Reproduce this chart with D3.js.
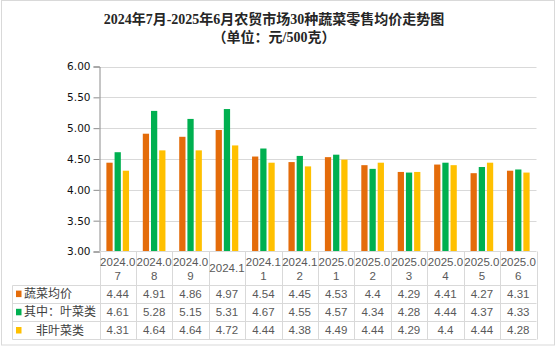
<!DOCTYPE html>
<html>
<head>
<meta charset="utf-8">
<script src="https://cdn.jsdelivr.net/npm/d3@7"></script>
<style>
  html, body { margin: 0; padding: 0; background: #fff; }
  svg { display: block; }
</style>
</head>
<body>
<svg id="chart" width="556" height="346"></svg>
<script>
// Monthly retail price data, 30 vegetables at farmers' markets
const categories = ["2024.07", "2024.08", "2024.09", "2024.1", "2024.11", "2024.12",
                    "2025.01", "2025.02", "2025.03", "2025.04", "2025.05", "2025.06"];
const seriesNames = ["蔬菜均价", "其中：叶菜类", "非叶菜类"];
const avgAll   = [4.44, 4.91, 4.86, 4.97, 4.54, 4.45, 4.53, 4.4, 4.29, 4.41, 4.27, 4.31];
const leafy    = [4.61, 5.28, 5.15, 5.31, 4.67, 4.55, 4.57, 4.34, 4.28, 4.44, 4.37, 4.33];
const nonLeafy = [4.31, 4.64, 4.64, 4.72, 4.44, 4.38, 4.49, 4.44, 4.29, 4.4, 4.44, 4.28];
const yTicks = [3.0, 3.5, 4.0, 4.5, 5.0, 5.5, 6.0];
const titleLines = ["2024年7月-2025年6月农贸市场30种蔬菜零售均价走势图", "（单位：元/500克）"];

const seriesValues = [avgAll, leafy, nonLeafy];
const colors = ["#E46C0A", "#00B050", "#FFC000"];

const svg = d3.select("#chart");
const W = 556, H = 346;
const plot = { left: 99.5, right: 536.5, top: 66.5, bottom: 251.5 };
const gridColor = "#d9d9d9";
const cjk = "'Noto Sans CJK SC', sans-serif";
const num = "'Liberation Sans', Arial, sans-serif";

// outer frame
svg.append("rect").attr("x", 1.5).attr("y", 0.5).attr("width", W - 3).attr("height", H - 1.5)
  .attr("fill", "#fff").attr("stroke", gridColor);

// title
svg.selectAll("text.title").data(titleLines).join("text")
  .attr("class", "title")
  .attr("x", 274).attr("y", (d, i) => 24 + i * 18)
  .attr("text-anchor", "middle")
  .attr("font-family", "'Liberation Serif', 'Noto Sans CJK SC', serif")
  .attr("font-weight", "bold")
  .attr("font-size", 14)
  .attr("fill", "#262626")
  .text(d => d);

const x = d3.scaleBand().domain(categories).range([plot.left, plot.right]).padding(0);
const y = d3.scaleLinear().domain([3, 6]).range([plot.bottom, plot.top]);

// horizontal grid
svg.append("g").selectAll("line").data(yTicks.slice(1)).join("line")
  .attr("x1", plot.left).attr("x2", plot.right)
  .attr("y1", d => Math.round(y(d)) + 0.5).attr("y2", d => Math.round(y(d)) + 0.5)
  .attr("stroke", gridColor).attr("stroke-width", 1);

// y axis
const yAxis = d3.axisLeft(y).tickValues(yTicks).tickFormat(d3.format(".2f")).tickSize(6).tickPadding(3);
const gy = svg.append("g").attr("transform", `translate(${plot.left},0)`).call(yAxis);
gy.select(".domain").attr("stroke", "#8c8c8c");
gy.selectAll(".tick line").attr("stroke", "#8c8c8c");
gy.selectAll(".tick text").attr("font-family", "'DejaVu Sans', sans-serif")
  .attr("font-size", 10.5).attr("fill", "#111");

// bars
const band = x.bandwidth();
const barW = band * 0.172;
const gap = band * 0.053;
const groupW = barW * 3 + gap * 2;
const gBars = svg.append("g");
seriesValues.forEach((vals, s) => {
  gBars.selectAll(null).data(vals).join("rect")
    .attr("x", (d, i) => x(categories[i]) + band / 2 - groupW / 2 + s * (barW + gap))
    .attr("y", d => y(d))
    .attr("width", barW)
    .attr("height", d => plot.bottom - y(d))
    .attr("fill", colors[s]);
});

// data table under the axis
const tableLeft = 12.5;
const headTop = 251.5, headBottom = 284.5;
const rowH = 18.2;
const rowTops = seriesNames.map((d, i) => headBottom + i * rowH);
const tableBottom = headBottom + seriesNames.length * rowH;

const gT = svg.append("g");
// x axis line / table top
gT.append("line").attr("x1", plot.left).attr("x2", plot.right)
  .attr("y1", headTop).attr("y2", headTop).attr("stroke", gridColor);
// horizontal row lines
[headBottom, ...rowTops.slice(1), tableBottom].forEach(yy => {
  gT.append("line").attr("x1", tableLeft).attr("x2", plot.right)
    .attr("y1", Math.round(yy) + 0.5).attr("y2", Math.round(yy) + 0.5).attr("stroke", gridColor);
});
// vertical column lines
const colEdges = categories.map(c => x(c)).concat([plot.right]);
colEdges.forEach(xx => {
  gT.append("line").attr("x1", Math.round(xx) + 0.5).attr("x2", Math.round(xx) + 0.5)
    .attr("y1", headTop).attr("y2", Math.round(tableBottom) + 0.5).attr("stroke", gridColor);
});
gT.append("line").attr("x1", tableLeft).attr("x2", tableLeft)
  .attr("y1", Math.round(headBottom) + 0.5).attr("y2", Math.round(tableBottom) + 0.5).attr("stroke", gridColor);

// category header labels (wrapped after six characters)
categories.forEach(c => {
  const cx = x(c) + band / 2;
  const lines = c.length > 6 ? [c.slice(0, 6), c.slice(6)] : [c];
  const t = gT.append("text").attr("text-anchor", "middle")
    .attr("font-family", num).attr("font-size", 11.5).attr("fill", "#595959");
  if (lines.length === 1) {
    t.append("tspan").attr("x", cx).attr("y", 272).text(lines[0]);
  } else {
    t.append("tspan").attr("x", cx).attr("y", 266).text(lines[0]);
    t.append("tspan").attr("x", cx).attr("y", 280).text(lines[1]);
  }
});

// legend column + values
seriesNames.forEach((name, s) => {
  const cy = rowTops[s] + rowH / 2;
  gT.append("rect").attr("x", 16).attr("y", cy - 3).attr("width", 5.5).attr("height", 6.5)
    .attr("fill", colors[s]);
  gT.append("text").attr("x", s === 2 ? 36 : 24).attr("y", cy + 4.5)
    .attr("font-family", cjk).attr("font-size", 12).attr("fill", "#404040").text(name);
  seriesValues[s].forEach((v, i) => {
    gT.append("text").attr("x", x(categories[i]) + band / 2).attr("y", cy + 4)
      .attr("text-anchor", "middle").attr("font-family", num).attr("font-size", 11.5)
      .attr("fill", "#595959").text(String(v));
  });
});
</script>
</body>
</html>
